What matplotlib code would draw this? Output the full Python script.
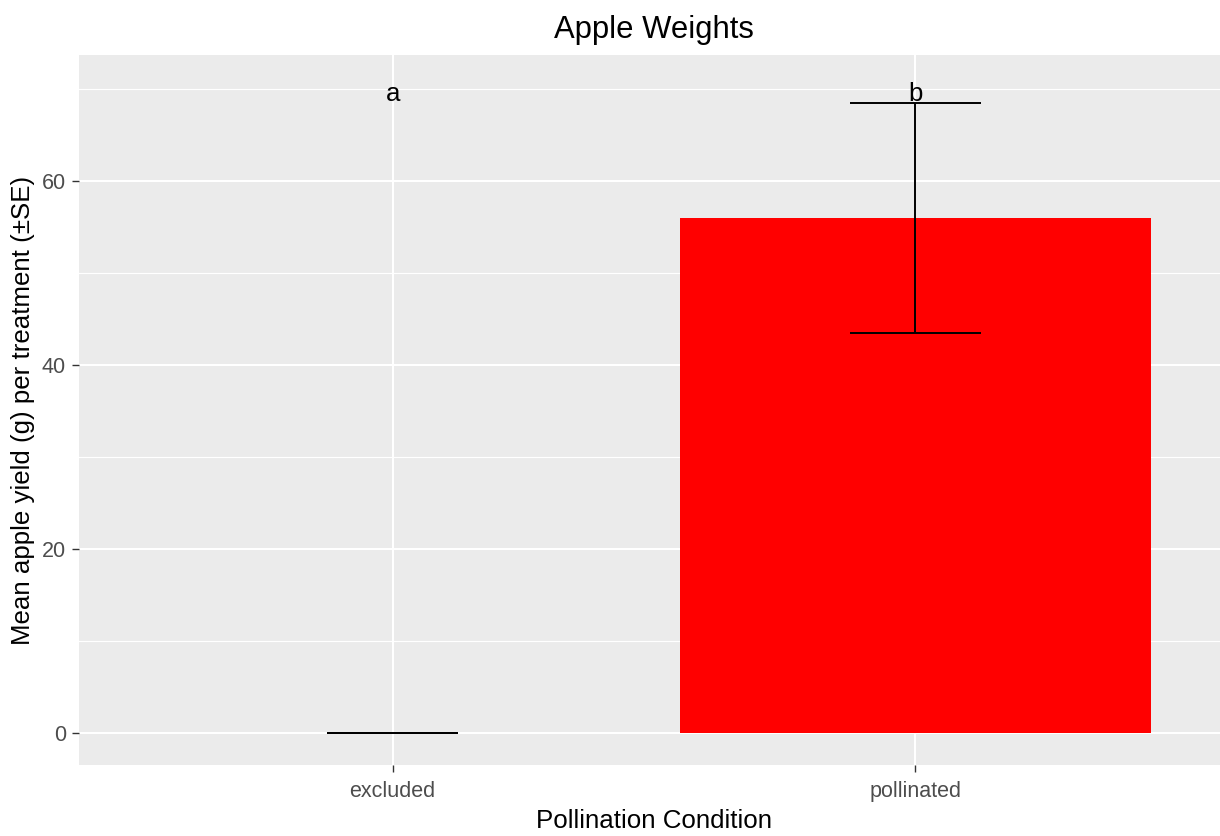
import matplotlib
matplotlib.use("Agg")
import matplotlib.pyplot as plt
from matplotlib.ticker import MultipleLocator

# Mean apple yield per pollination treatment, with standard errors
conditions = ["excluded", "pollinated"]
mean_yield = [0.0, 56.0]
se_yield = [0.0, 12.5]
letters = ["a", "b"]
letter_y = 70

plt.rcParams["font.family"] = ["Liberation Sans", "DejaVu Sans"]

W, H = 1220, 836
fig = plt.figure(figsize=(W / 100, H / 100), dpi=100)
ax = fig.add_axes([79 / W, (H - 765.3) / H, (1229 - 79) / W, (765.3 - 55.5) / H])
ax.set_facecolor("#EBEBEB")

x = list(range(1, len(conditions) + 1))
ax.bar(x, mean_yield, width=0.9, color="#FF0000", zorder=2)
ax.errorbar(x, mean_yield, yerr=se_yield, fmt="none", ecolor="black",
            elinewidth=1.4, capsize=0, zorder=3)
# horizontal caps, width 0.25 in category units
for xi, m, s in zip(x, mean_yield, se_yield):
    for yv in (m - s, m + s):
        ax.hlines(yv, xi - 0.125, xi + 0.125, color="black", lw=1.4, zorder=3)

for xi, lab in zip(x, letters):
    ax.annotate(lab, (xi, letter_y), xytext=(0, -8.8), textcoords="offset points",
                ha="center", va="baseline", fontsize=18.6, color="black", zorder=4)

ax.set_xlim(0.4, 2.6)
ax.set_ylim(-3.5, 73.65)
ax.set_xticks(x)
ax.set_xticklabels(conditions)
ax.yaxis.set_major_locator(MultipleLocator(20))
ax.yaxis.set_minor_locator(MultipleLocator(10))

ax.grid(True, which="major", color="white", lw=1.5, zorder=0)
ax.grid(True, which="minor", axis="y", color="white", lw=0.8, zorder=0)
ax.set_axisbelow(True)
for sp in ax.spines.values():
    sp.set_visible(False)

ax.tick_params(axis="both", which="major", length=5, width=1.0, color="#333333",
               labelcolor="#4D4D4D", labelsize=15.5, pad=4.5)
ax.tick_params(axis="x", which="major", pad=6.5)
ax.tick_params(axis="both", which="minor", length=0)

ax.set_title("Apple Weights", fontsize=22.3, color="black", pad=12.8)
ax.set_xlabel("Pollination Condition", fontsize=18.6, color="black", labelpad=5)
ax.set_ylabel("Mean apple yield (g) per treatment (\u00b1SE)", fontsize=18.6,
              color="black", labelpad=4.5)

fig.savefig("out.png", dpi=100)
